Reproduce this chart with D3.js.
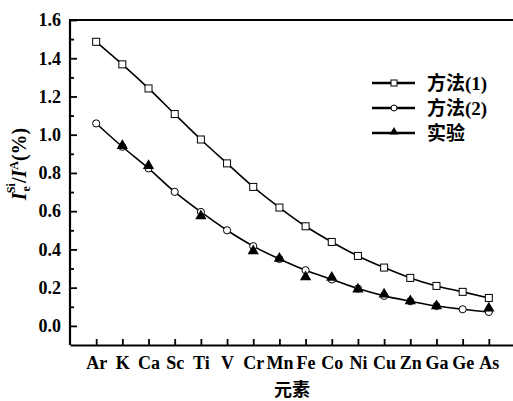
<!DOCTYPE html>
<html>
<head>
<meta charset="utf-8">
<script src="https://cdn.jsdelivr.net/npm/d3@7"></script>
<style>
  body { margin: 0; background: #fff; }
  text { font-family: "Liberation Serif", "Noto Sans CJK SC", serif; fill: #000; }
</style>
</head>
<body>
<div id="chart"></div>
<script>
// element names on the x axis
const elements = ["Ar", "K", "Ca", "Sc", "Ti", "V", "Cr", "Mn", "Fe", "Co", "Ni", "Cu", "Zn", "Ga", "Ge", "As"];

// method (1), squares
const method1 = [1.486, 1.368, 1.242, 1.108, 0.975, 0.850, 0.727, 0.619, 0.521, 0.439, 0.366, 0.305, 0.251, 0.209, 0.178, 0.146];
// method (2), circles
const method2 = [1.059, 0.937, 0.824, 0.701, 0.596, 0.500, 0.417, 0.350, 0.291, 0.243, 0.195, 0.157, 0.129, 0.104, 0.087, 0.073];
// experiment, triangles (element, value)
const expElements = ["K", "Ca", "Ti", "Cr", "Mn", "Fe", "Co", "Ni", "Cu", "Zn", "Ga", "As"];
const expValues = [0.937, 0.832, 0.570, 0.387, 0.347, 0.251, 0.248, 0.186, 0.160, 0.125, 0.099, 0.087];

const yTicks = [0.0, 0.2, 0.4, 0.6, 0.8, 1.0, 1.2, 1.4, 1.6];
const yMinor = [0.1, 0.3, 0.5, 0.7, 0.9, 1.1, 1.3, 1.5];

const legendLabels = ["方法(1)", "方法(2)", "实验"];

const W = 513, H = 401;

const svg = d3.select("#chart")
  .append("svg")
  .attr("width", W)
  .attr("height", H);

// scales
const x = d3.scaleLinear()
  .domain([-1, 16])
  .range([70, 515]);

const y = d3.scaleLinear()
  .domain([-0.1, 1.6])
  .range([345, 20]);

// x axis (ticks inward)
const xAxis = d3.axisBottom(x)
  .tickValues(d3.range(elements.length))
  .tickFormat(i => elements[i])
  .tickSizeInner(-6)
  .tickSizeOuter(0)
  .tickPadding(11);

const gx = svg.append("g")
  .attr("transform", "translate(0,345)")
  .call(xAxis);
gx.selectAll("text").style("font-size", "18px").style("font-weight", "bold");

// y axis (ticks inward)
const yAxis = d3.axisLeft(y)
  .tickValues(yTicks)
  .tickFormat(d3.format(".1f"))
  .tickSizeInner(-7)
  .tickSizeOuter(0)
  .tickPadding(9);

const gy = svg.append("g")
  .attr("transform", "translate(70,0)")
  .call(yAxis);
gy.selectAll("text").style("font-size", "18px").style("font-weight", "bold");

// minor y ticks
svg.append("g")
  .attr("transform", "translate(70,0)")
  .call(d3.axisLeft(y).tickValues(yMinor).tickFormat("").tickSizeInner(-4).tickSizeOuter(0))
  .call(g => g.select(".domain").remove());

svg.selectAll(".domain").attr("stroke-width", 2.2);
svg.selectAll(".tick line").attr("stroke-width", 1.8);

// top frame line
svg.append("line")
  .attr("x1", 69).attr("x2", W)
  .attr("y1", y(1.6)).attr("y2", y(1.6))
  .attr("stroke", "#000")
  .attr("stroke-width", 2.2);
gy.select(".domain").attr("d", `M0,${y(1.6)}V345`);

// curves
const line = d3.line()
  .x((d, i) => x(i))
  .y(d => y(d))
  .curve(d3.curveMonotoneX);

svg.append("path")
  .datum(method1)
  .attr("d", line)
  .attr("fill", "none")
  .attr("stroke", "#000")
  .attr("stroke-width", 1.6);

svg.append("path")
  .datum(method2)
  .attr("d", line)
  .attr("fill", "none")
  .attr("stroke", "#000")
  .attr("stroke-width", 1.6);

// markers
svg.selectAll(".sq")
  .data(method1)
  .enter()
  .append("rect")
    .attr("class", "sq")
    .attr("x", (d, i) => x(i) - 3.5)
    .attr("y", d => y(d) - 3.5)
    .attr("width", 7)
    .attr("height", 7)
    .attr("fill", "#fff")
    .attr("stroke", "#000")
    .attr("stroke-width", 1);

svg.selectAll(".ci")
  .data(method2)
  .enter()
  .append("circle")
    .attr("class", "ci")
    .attr("cx", (d, i) => x(i))
    .attr("cy", d => y(d))
    .attr("r", 3.6)
    .attr("fill", "#fff")
    .attr("stroke", "#000")
    .attr("stroke-width", 1);

const tri = d3.symbol().type(d3.symbolTriangle).size(55);
svg.selectAll(".tr")
  .data(expValues)
  .enter()
  .append("path")
    .attr("class", "tr")
    .attr("d", tri)
    .attr("transform", (d, i) => `translate(${x(elements.indexOf(expElements[i]))},${y(d) - 1})`)
    .attr("fill", "#000");

// legend
const legend = svg.append("g").attr("transform", "translate(372,83)");
legendLabels.forEach((lab, k) => {
  const g = legend.append("g").attr("transform", `translate(0,${k * 25})`);
  g.append("line").attr("x1", 0).attr("x2", 43).attr("y1", 0).attr("y2", 0)
    .attr("stroke", "#000").attr("stroke-width", 2.5);
  if (k === 0) {
    g.append("rect").attr("x", 19).attr("y", -3).attr("width", 6).attr("height", 6)
      .attr("fill", "#fff").attr("stroke", "#000");
  } else if (k === 1) {
    g.append("circle").attr("cx", 22).attr("cy", 0).attr("r", 3)
      .attr("fill", "#fff").attr("stroke", "#000");
  } else {
    g.append("path").attr("d", d3.symbol().type(d3.symbolTriangle).size(34))
      .attr("transform", "translate(22,-1)").attr("fill", "#000");
  }
  g.append("text")
    .attr("x", 55)
    .attr("y", 7)
    .style("font-size", "19px")
    .style("font-weight", "bold")
    .text(lab);
});

// axis titles
svg.append("text")
  .attr("x", 292)
  .attr("y", 396)
  .attr("text-anchor", "middle")
  .style("font-size", "18px")
  .style("font-weight", "bold")
  .text("元素");

const yl = svg.append("text")
  .attr("transform", "translate(26,164) rotate(-90)")
  .attr("text-anchor", "middle")
  .style("font-size", "20px")
  .style("font-weight", "bold");
yl.append("tspan").style("font-style", "italic").text("I");
yl.append("tspan").attr("dx", 1).attr("dy", 4).style("font-size", "12px").text("e");
yl.append("tspan").attr("dx", -7).attr("dy", -15).style("font-size", "12px").text("Si");
yl.append("tspan").attr("dy", 11).text("/");
yl.append("tspan").style("font-style", "italic").text("I");
yl.append("tspan").attr("dy", -8).style("font-size", "12px").text("A");
yl.append("tspan").attr("dy", 8).text("(%)");
</script>
</body>
</html>
